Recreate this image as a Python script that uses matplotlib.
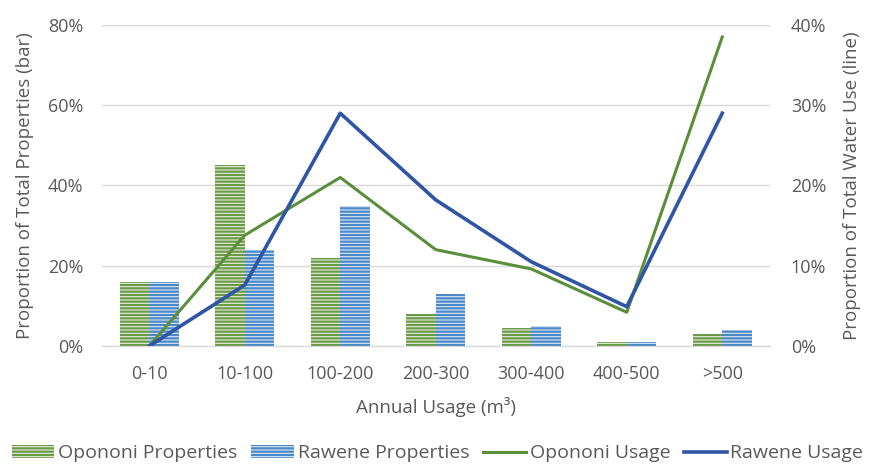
import matplotlib.pyplot as plt
import numpy as np

plt.rcParams['font.family'] = ['Open Sans', 'DejaVu Sans']
plt.rcParams['hatch.linewidth'] = 1.6

categorias = ["0-10", "10-100", "100-200", "200-300", "300-400", "400-500", ">500"]
opononi_prop = [16, 45, 22, 8, 4.5, 1, 3]
rawene_prop = [16, 24, 35, 13, 5, 1, 4]
opononi_uso = [0, 13.8, 21, 12, 9.6, 4.2, 38.5]
rawene_uso = [0, 7.6, 29, 18.2, 10.5, 4.9, 29]

verde = "#5B8E3A"
azul = "#2F55A4"
gris = "#595959"

fig = plt.figure(figsize=(8.75, 4.66), dpi=100)
ax = fig.add_axes([0.116, 0.2575, 0.764, 0.689])
ax2 = ax.twinx()

x = np.arange(len(categorias))
w = 0.31

b1 = ax.bar(x - w / 2, opononi_prop, w, color="#E6EEDD", edgecolor="#6A9A48",
            hatch="-----", linewidth=0, label="Opononi Properties")
b2 = ax.bar(x + w / 2, rawene_prop, w, color="#DDE8F4", edgecolor="#4A88C8",
            hatch="-----", linewidth=0, label="Rawene Properties")

l1, = ax2.plot(x, opononi_uso, color=verde, linewidth=2.2, label="Opononi Usage")
l2, = ax2.plot(x, rawene_uso, color=azul, linewidth=2.6, label="Rawene Usage")

ax.set_xlim(-0.5, len(categorias) - 0.5)
ax.set_ylim(0, 80)
ax2.set_ylim(0, 40)
ax.set_yticks([0, 20, 40, 60, 80])
ax.set_yticklabels([f"{v}%" for v in [0, 20, 40, 60, 80]])
ax2.set_yticks([0, 10, 20, 30, 40])
ax2.set_yticklabels([f"{v}%" for v in [0, 10, 20, 30, 40]])
ax.set_xticks(x)
ax.set_xticklabels(categorias)

ax.grid(axis="y", color="#D9D9D9", linewidth=1)
ax.set_axisbelow(True)
for a in (ax, ax2):
    for s in ["top", "left", "right"]:
        a.spines[s].set_visible(False)
    a.spines["bottom"].set_color("#D9D9D9")
    a.tick_params(length=0, colors=gris, labelsize=13)
ax.tick_params(axis="y", pad=13)
ax2.tick_params(axis="y", pad=15)
ax.tick_params(axis="x", pad=14)

ax.set_xlabel("Annual Usage (m³)", color=gris, fontsize=13.5, labelpad=10)
ax.set_ylabel("Proportion of Total Properties (bar)", color=gris, fontsize=13.5, labelpad=10)
ax2.set_ylabel("Proportion of Total Water Use (line)", color=gris, fontsize=13.5, labelpad=12)

fig.legend(handles=[b1, b2, l1, l2], loc="lower center", ncol=4, frameon=False,
           fontsize=14, labelcolor=gris, bbox_to_anchor=(0.5, -0.03),
           handlelength=2.2, handletextpad=0.2, columnspacing=0.7)

fig.savefig("out.png", dpi=100)
